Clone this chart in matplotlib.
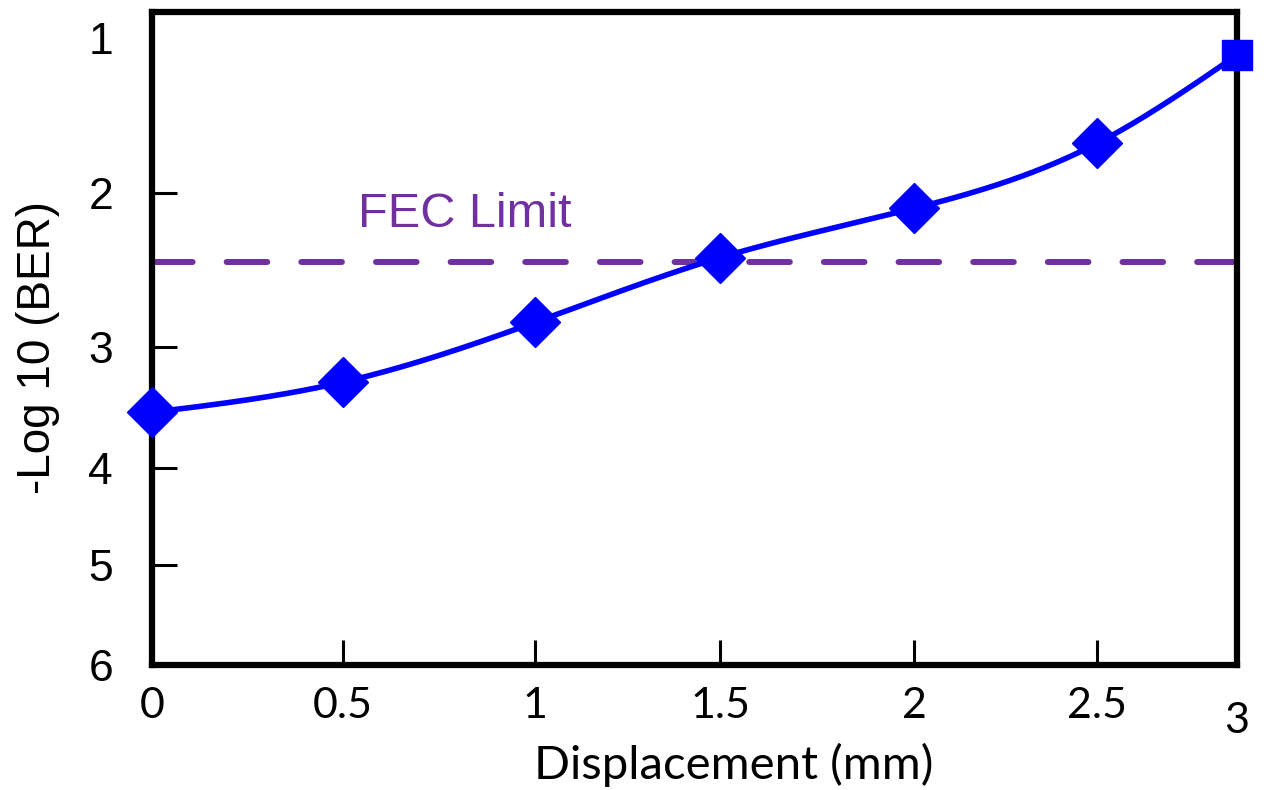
import numpy as np
import matplotlib
matplotlib.use("Agg")
import matplotlib.pyplot as plt
from matplotlib.transforms import ScaledTranslation

# ---------------- data ----------------
displacement = [0, 0.5, 1, 1.5, 2, 2.5, 3]
neg_log_ber = [3.54, 3.29, 2.84, 2.42, 2.10, 1.68, 1.11]
fec_limit = 2.45
fec_label = "FEC Limit"
x_ticks = [0, 0.5, 1, 1.5, 2, 2.5, 3]
x_tick_labels = ["0", "0.5", "1", "1.5", "2", "2.5", "3"]
y_ticks = [1, 2, 3, 4, 5, 6]
y_tick_labels = ["1", "2", "3", "4", "5", "6"]
x_label = "Displacement (mm)"
y_label = "-Log 10 (BER)"

# ---------------- style / layout ----------------
W, H = 1266, 790
AX_L, AX_R, AX_T, AX_B = 152, 1237, 12, 665
# the original axes are drawn non-uniformly: pixel position of each tick value
X_KNOT_PIX = [152, 343, 535, 720, 914, 1097, 1237]
Y_KNOT_PIX = [38, 193, 347, 468, 565, 665]
BLUE = "#0000FF"
PURPLE = "#7030A0"


def piecewise(knots, pix):
    k = np.asarray(knots, float)
    p = np.asarray(pix, float)
    s0 = (p[1] - p[0]) / (k[1] - k[0])
    s1 = (p[-1] - p[-2]) / (k[-1] - k[-2])

    def fwd(v):
        v = np.asarray(v, float)
        out = np.interp(v, k, p)
        out = np.where(v < k[0], p[0] + (v - k[0]) * s0, out)
        out = np.where(v > k[-1], p[-1] + (v - k[-1]) * s1, out)
        return out

    def inv(q):
        q = np.asarray(q, float)
        out = np.interp(q, p, k)
        out = np.where(q < p[0], k[0] + (q - p[0]) / s0, out)
        out = np.where(q > p[-1], k[-1] + (q - p[-1]) / s1, out)
        return out

    return fwd, inv


def natural_spline(xs, ys, xq):
    xs = np.asarray(xs, float)
    ys = np.asarray(ys, float)
    n = len(xs)
    h = np.diff(xs)
    A = np.zeros((n, n))
    b = np.zeros(n)
    A[0, 0] = A[-1, -1] = 1.0
    for i in range(1, n - 1):
        A[i, i - 1] = h[i - 1]
        A[i, i] = 2 * (h[i - 1] + h[i])
        A[i, i + 1] = h[i]
        b[i] = 3 * ((ys[i + 1] - ys[i]) / h[i] - (ys[i] - ys[i - 1]) / h[i - 1])
    c = np.linalg.solve(A, b)
    bb = (ys[1:] - ys[:-1]) / h - h * (2 * c[:-1] + c[1:]) / 3
    d = (c[1:] - c[:-1]) / (3 * h)
    idx = np.clip(np.searchsorted(xs, xq) - 1, 0, n - 2)
    t = xq - xs[idx]
    return ys[idx] + bb[idx] * t + c[idx] * t ** 2 + d[idx] * t ** 3


fx, fx_inv = piecewise(x_ticks, X_KNOT_PIX)
fy, fy_inv = piecewise(y_ticks, Y_KNOT_PIX)

fig = plt.figure(figsize=(W / 100, H / 100), dpi=100)
ax = fig.add_axes([AX_L / W, 1 - AX_B / H, (AX_R - AX_L) / W, (AX_B - AX_T) / H])
ax.set_xscale("function", functions=(fx, fx_inv))
ax.set_yscale("function", functions=(fy, fy_inv))
ax.set_xlim(float(fx_inv(AX_L)), float(fx_inv(AX_R)))
ax.set_ylim(float(fy_inv(AX_B)), float(fy_inv(AX_T)))

# smooth curve computed in scale space
px = fx(displacement)
py = fy(neg_log_ber)
xq = np.linspace(px[0], px[-1], 400)
yq = natural_spline(px, py, xq)
ax.plot(fx_inv(xq), fy_inv(yq), color=BLUE, lw=4.0, solid_capstyle="round", zorder=3)

# markers: diamonds, last one a square
ax.plot(displacement[:-1], neg_log_ber[:-1], ls="none", marker="D", ms=25,
        color=BLUE, mec=BLUE, zorder=4, clip_on=False)
ax.plot(displacement[-1:], neg_log_ber[-1:], ls="none", marker="s", ms=22,
        color=BLUE, mec=BLUE, zorder=4, clip_on=False)

# FEC limit
ax.axhline(fec_limit, color=PURPLE, lw=4.3, dashes=(6.8, 5.7),
           dash_capstyle="round", zorder=2)
ax.text(float(fx_inv(358)), float(fy_inv(227)), fec_label, color=PURPLE,
        fontsize=35, family=["Liberation Sans", "DejaVu Sans"],
        ha="left", va="baseline")

# spines
for s in ax.spines.values():
    s.set_linewidth(4.5)
    s.set_color("black")

# ticks
ax.set_xticks(x_ticks)
ax.set_xticklabels(x_tick_labels)
ax.set_yticks(y_ticks)
ax.set_yticklabels(y_tick_labels)
ax.minorticks_off()
ax.tick_params(axis="both", direction="in", length=18, width=2.2, color="black")
ax.tick_params(axis="y", pad=28, labelsize=32)
ax.tick_params(axis="x", pad=16, labelsize=31)
for lab in ax.get_yticklabels():
    lab.set_fontfamily(["Liberation Sans", "DejaVu Sans"])
for lab in ax.get_xticklabels():
    lab.set_fontfamily(["Lato", "DejaVu Sans"])
xt = ax.xaxis.get_major_ticks()
yt = ax.yaxis.get_major_ticks()
for t in (xt[0], xt[-1], yt[0], yt[-1]):
    t.tick1line.set_visible(False)
    t.tick2line.set_visible(False)
# the last x label sits a little lower in the original
last = xt[-1].label1
last.set_transform(last.get_transform() + ScaledTranslation(0, -0.15, fig.dpi_scale_trans))

# labels
ax.set_xlabel(x_label, fontsize=34, family=["Lato", "DejaVu Sans"])
ax.xaxis.set_label_coords((734 - AX_L) / (AX_R - AX_L), (AX_B - 743) / (AX_B - AX_T))
ax.xaxis.label.set_va("top")
ax.set_ylabel(y_label, fontsize=33, family=["Liberation Sans", "DejaVu Sans"])
ax.yaxis.set_label_coords((16 - AX_L) / (AX_R - AX_L), (AX_B - 347) / (AX_B - AX_T))
ax.yaxis.label.set_va("top")

fig.savefig("out.png", dpi=100)
